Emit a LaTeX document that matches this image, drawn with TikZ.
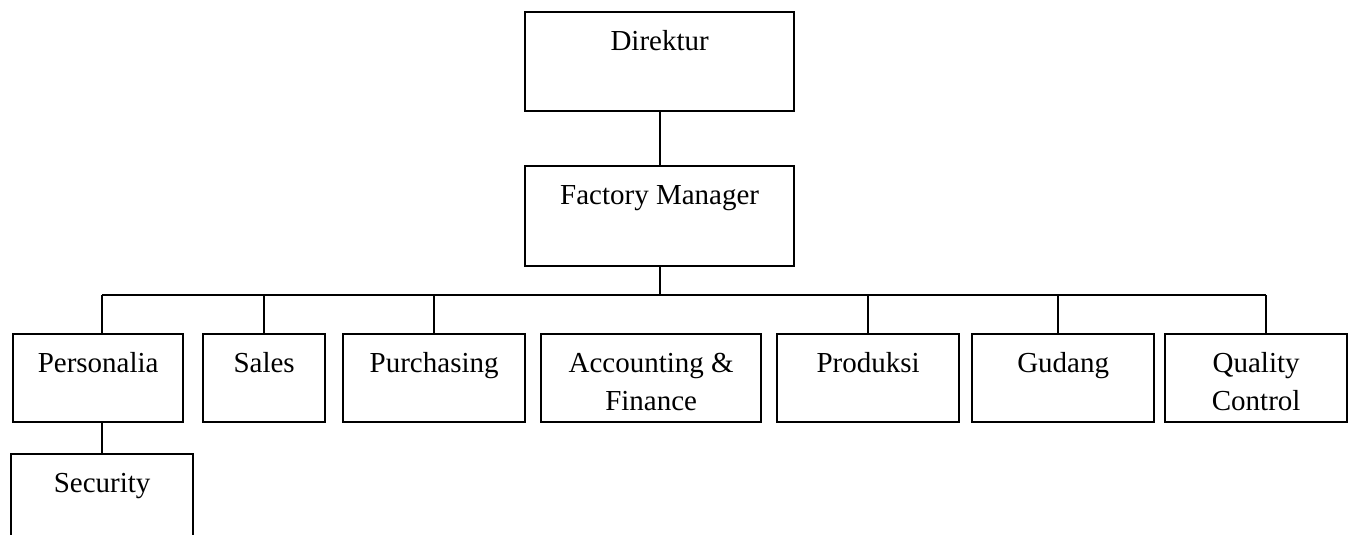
\documentclass[tikz,border=0pt]{standalone}
\usepackage{fontspec}
\setmainfont{Liberation Serif}
% text at the top of a fixed-size box: width, height, centred lines
\newcommand\orgtext[3]{\parbox[t][#2][t]{#1}{\centering\rule{0pt}{38pt}\ignorespaces#3\par}}
\begin{document}
\begin{tikzpicture}[x=1pt,y=-1pt,
  unit/.style={draw, line width=2.3pt, inner sep=0pt, anchor=north west,
    font=\fontsize{29}{38}\selectfont},
  link/.style={line width=2.1pt}]
\clip (0,0) rectangle (1352,535);
\fill[white] (0,0) rectangle (1352,535);

% top of the chart
\node[unit] (dir) at (524,11)  {\orgtext{269pt}{99pt}{Direktur}};
\node[unit] (fm)  at (524,165) {\orgtext{269pt}{100pt}{Factory Manager}};

% departments
\node[unit] (pers)  at (12,333)   {\orgtext{170pt}{88pt}{Personalia}};
\node[unit] (sales) at (202,333)  {\orgtext{122pt}{88pt}{Sales}};
\node[unit] (purch) at (342,333)  {\orgtext{182pt}{88pt}{Purchasing}};
\node[unit] (acc)   at (540,333)  {\orgtext{220pt}{88pt}{Accounting \&\\Finance}};
\node[unit] (prod)  at (776,333)  {\orgtext{182pt}{88pt}{Produksi}};
\node[unit] (gud)   at (971,333)  {\orgtext{182pt}{88pt}{Gudang}};
\node[unit] (qc)    at (1164,333) {\orgtext{182pt}{88pt}{Quality\\Control}};

% under Personalia
\node[unit] (sec) at (10,453) {\orgtext{182pt}{110pt}{Security}};

% junctions on the horizontal bus
\coordinate (jpers)  at (102,295);
\coordinate (jsales) at (264,295);
\coordinate (jpurch) at (434,295);
\coordinate (jprod)  at (868,295);
\coordinate (jgud)   at (1058,295);
\coordinate (jqc)    at (1266,295);

\draw[link] (dir.south) -- (fm.north);
\draw[link] (fm.south) -- (fm.south |- jpers);
\draw[link] (jpers) -- (jqc);
\draw[link] (jpers)  -- (jpers |- pers.north);
\draw[link] (jsales) -- (jsales |- sales.north);
\draw[link] (jpurch) -- (jpurch |- purch.north);
\draw[link] (jprod)  -- (jprod |- prod.north);
\draw[link] (jgud)   -- (jgud |- gud.north);
\draw[link] (jqc)    -- (jqc |- qc.north);
\draw[link] (jpers |- pers.south) -- (jpers |- sec.north);
\end{tikzpicture}
\end{document}
